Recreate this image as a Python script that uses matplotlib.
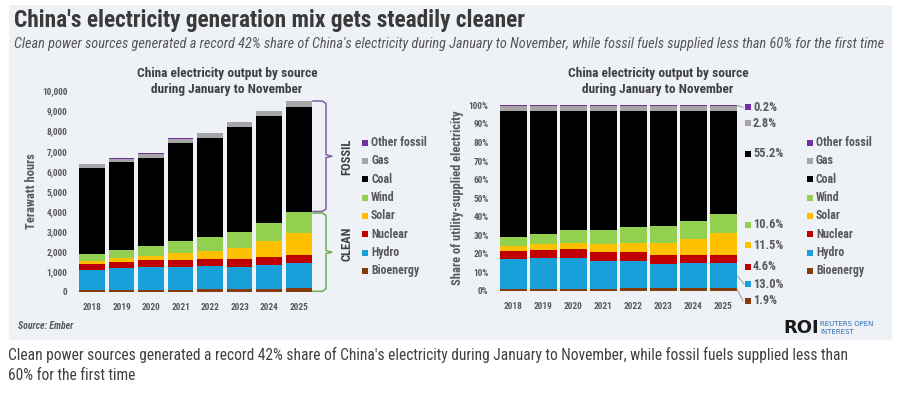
import matplotlib
matplotlib.use('Agg')
import matplotlib.pyplot as plt
from matplotlib import font_manager
from matplotlib.transforms import blended_transform_factory
from matplotlib.patches import Rectangle

# ---------------- data ----------------
years = ['2018', '2019', '2020', '2021', '2022', '2023', '2024', '2025']
bioenergy = [65, 73, 90, 99, 111, 119, 135, 179]
hydro = [1030, 1096, 1151, 1146, 1157, 1110, 1209, 1235]
nuclear = [273, 299, 317, 359, 380, 398, 406, 437]
solar = [159, 213, 234, 329, 404, 551, 776, 1097]
wind = [330, 372, 462, 581, 689, 805, 893, 1011]
coal = [4305, 4386, 4427, 4890, 4937, 5218, 5322, 5248]
gas = [185, 193, 200, 222, 230, 254, 253, 270]
other_fossil = [13, 13, 14, 15, 16, 17, 18, 23]

source_names = ['Bioenergy', 'Hydro', 'Nuclear', 'Solar', 'Wind', 'Coal', 'Gas', 'Other fossil']
series = [bioenergy, hydro, nuclear, solar, wind, coal, gas, other_fossil]
colors = ['#843C0C', '#17A0DA', '#C00000', '#FFC000', '#92D050', '#000000', '#A6A6A6', '#7030A0']

yticks_left = [0, 1000, 2000, 3000, 4000, 5000, 6000, 7000, 8000, 9000, 10000]
yticks_right = [0, 10, 20, 30, 40, 50, 60, 70, 80, 90, 100]

# ---------------- fonts ----------------
avail = {f.name for f in font_manager.fontManager.ttflist}
if 'Liberation Sans Narrow' in avail:
    NARROW = 'Liberation Sans Narrow'
elif 'Roboto Condensed' in avail:
    NARROW = 'Roboto Condensed'
else:
    NARROW = 'Roboto'
plt.rcParams['font.family'] = [NARROW, 'DejaVu Sans']

W, H = 900, 394
fig = plt.figure(figsize=(W / 100, H / 100), dpi=100)
fig.patch.set_facecolor('white')


def fx(x):
    return x / W


def fy(y):
    return 1 - y / H


def ftext(x, y, s, **kw):
    return fig.text(fx(x), fy(y), s, **kw)


# card background
fig.patches.append(Rectangle((fx(9), fy(340)), fx(883), 335 / H, transform=fig.transFigure,
                             facecolor='#eef2f7', edgecolor='none', zorder=-5))

TXT = '#404040'
TICK = '#595959'

ftext(14, 21, "China's electricity generation mix gets steadily cleaner", fontsize=16.8,
      fontweight='bold', color='#3a3a3a', va='center', ha='left')
ftext(14, 44, "Clean power sources generated a record 42% share of China's electricity during "
      "January to November, while fossil fuels supplied less than 60% for the first time",
      fontsize=10.3, style='italic', color='#555555', va='center', ha='left')

n = len(years)
xs = list(range(n))
totals = [sum(s[i] for s in series) for i in range(n)]


def style_axes(ax):
    for sp in ax.spines.values():
        sp.set_visible(False)
    ax.set_facecolor('none')
    ax.tick_params(length=0, labelsize=6.7, labelcolor=TICK)
    ax.set_xticks(xs)
    ax.set_xticklabels(years, fontweight='bold')
    ax.tick_params(axis='x', pad=8)
    ax.tick_params(axis='y', pad=6)
    for lab in ax.get_yticklabels():
        lab.set_fontweight('bold')


# ---------------- left chart ----------------
ax1 = fig.add_axes([fx(75.9), fy(291.7), 239 / W, 200.7 / H])
bottom = [0] * n
for vals, c in zip(series, colors):
    ax1.bar(xs, vals, bottom=bottom, width=0.87, color=c, linewidth=0)
    bottom = [b + v for b, v in zip(bottom, vals)]
ax1.set_xlim(-0.55, 7.55)
ax1.set_ylim(0, 10000)
ax1.set_yticks(yticks_left)
ax1.set_yticklabels([f'{v:,}' for v in yticks_left])
style_axes(ax1)
ax1.set_ylabel('Terawatt hours', fontsize=9, fontweight='bold', color=TICK, labelpad=3)

ftext(227, 74, 'China electricity output by source', fontsize=9.6, fontweight='bold', color=TXT,
      ha='center', va='center')
ftext(227, 90, 'during January to November', fontsize=9.6, fontweight='bold', color=TXT,
      ha='center', va='center')

# brackets
last = n - 1
clean_top = bioenergy[last] + hydro[last] + nuclear[last] + solar[last] + wind[last]
fossil_top = totals[last]
tr = blended_transform_factory(fig.transFigure, ax1.transData)


def bracket(y0, y1, color):
    xa, xb, xc = fx(313), fx(326), fx(332)
    mid = (y0 + y1) / 2
    d = 120
    xsb = [xa, xb - 0.004, xb, xb, xc, xb, xb, xb - 0.004, xa]
    ysb = [y1, y1, y1 - d, mid + d * 0.6, mid, mid - d * 0.6, y0 + d, y0, y0]
    ax1.plot(xsb, ysb, color=color, lw=1.1, transform=tr, clip_on=False, solid_joinstyle='round')


bracket(clean_top + 40, fossil_top, '#7F5FA8')
bracket(20, clean_top - 40, '#70AD47')
ftext(347, 157, 'FOSSIL', rotation=90, fontsize=9, fontweight='bold', color=TXT, ha='center', va='center')
ftext(347, 244, 'CLEAN', rotation=90, fontsize=9, fontweight='bold', color=TXT, ha='center', va='center')


def legend(x_sq, x_txt):
    order = list(range(len(source_names)))[::-1]
    for k, idx in enumerate(order):
        y = 142.7 + 18.3 * k
        fig.patches.append(Rectangle((fx(x_sq - 3), fy(y + 3)), 6 / W, 6 / H, transform=fig.transFigure,
                                     facecolor=colors[idx], edgecolor='none'))
        ftext(x_txt, y, source_names[idx], fontsize=8.6, fontweight='bold', color=TICK, ha='left', va='center')


legend(365, 371)

# ---------------- right chart ----------------
ax2 = fig.add_axes([fx(496.85), fy(291), 243 / W, 185.7 / H])
shares = [[100 * s[i] / totals[i] for i in range(n)] for s in series]
bottom = [0] * n
for vals, c in zip(shares, colors):
    ax2.bar(xs, vals, bottom=bottom, width=0.89, color=c, linewidth=0)
    bottom = [b + v for b, v in zip(bottom, vals)]
ax2.set_xlim(-0.55, 7.55)
ax2.set_ylim(0, 100)
ax2.set_yticks(yticks_right)
ax2.set_yticklabels([f'{v}%' for v in yticks_right])
style_axes(ax2)
ax2.set_ylabel('Share of utility-supplied electricity', fontsize=9, fontweight='bold', color=TICK, labelpad=3)

ftext(658, 74, 'China electricity output by source', fontsize=9.6, fontweight='bold', color=TXT,
      ha='center', va='center')
ftext(658, 90, 'during January to November', fontsize=9.6, fontweight='bold', color=TXT,
      ha='center', va='center')

# 2025 share labels (pixel y positions of labels, top to bottom)
label_y = {'Other fossil': 107.3, 'Gas': 123.3, 'Coal': 154, 'Wind': 224.7, 'Solar': 245.3,
           'Nuclear': 266.7, 'Hydro': 284, 'Bioenergy': 300.7}
for idx, name in enumerate(source_names):
    y = label_y[name]
    fig.patches.append(Rectangle((fx(745), fy(y + 3)), 6 / W, 6 / H, transform=fig.transFigure,
                                 facecolor=colors[idx], edgecolor='none'))
    ftext(753, y, f'{shares[idx][last]:.1f}%', fontsize=8.9, fontweight='bold', color=TICK,
          ha='left', va='center')

# leader lines
cum = [0]
for s in shares:
    cum.append(cum[-1] + s[last])
tr2 = blended_transform_factory(fig.transFigure, ax2.transData)
lead_col = '#9a9a9a'
ax2.plot([fx(737), fx(743)], [cum[8] - 0.1, (291 - 107.3) / 1.857], color=lead_col, lw=0.7,
         transform=tr2, clip_on=False)
ax2.plot([fx(737), fx(744)], [(cum[1] + cum[2]) / 2, (291 - 284) / 1.857], color=lead_col, lw=0.7,
         transform=tr2, clip_on=False)
ax2.plot([fx(737), fx(743)], [(cum[0] + cum[1]) / 2, (291 - 300.7) / 1.857], color=lead_col, lw=0.7,
         transform=tr2, clip_on=False)

legend(810, 816)

# footer
ftext(18, 326, 'Source: Ember', fontsize=7, fontweight='bold', style='italic', color=TICK,
      ha='left', va='center')
ftext(801, 328, 'ROI', fontsize=13, fontweight='bold', color='#1a1a1a', ha='center', va='center',
      family=['DejaVu Sans'])
ftext(820, 324, 'REUTERS OPEN', fontsize=5, color='#2f6db5', ha='left', va='center',
      family=['DejaVu Sans'])
ftext(820, 332, 'INTEREST', fontsize=5, color='#2f6db5', ha='left', va='center',
      family=['DejaVu Sans'])

ftext(8, 355, "Clean power sources generated a record 42% share of China's electricity during January to "
      "November, while fossil fuels supplied less than", fontsize=11.2, color='#404040', ha='left', va='center')
ftext(8, 375, '60% for the first time', fontsize=11.2, color='#404040', ha='left', va='center')

fig.savefig('out.png', dpi=100, facecolor='white')
